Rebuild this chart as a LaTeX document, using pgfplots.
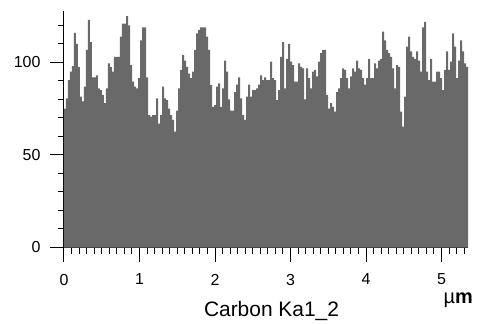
\documentclass[border=0pt]{standalone}
\usepackage{fontspec}
\setmainfont{Liberation Sans}
\usepackage{pgfplots}
\pgfplotsset{compat=1.18}
\definecolor{histgray}{RGB}{105,105,105}
\begin{document}
\begin{tikzpicture}
\begin{axis}[name=ax, scale only axis, width=404bp, height=236.8bp,
 xmin=0, xmax=202, ymin=0, ymax=128,
 axis x line=bottom, axis y line=left,
 axis line style={-, line width=1bp, black},
 xtick={0,37.75,75.5,113.25,151,188.75}, xticklabels={0,1,2,3,4,5},
 minor xtick={3.775,7.55,...,201},
 ytick={0,50,100}, minor ytick={10,20,...,120},
 tick align=outside, major tick length=14bp, minor tick length=6bp,
 tick style={black, line width=1bp},
 tick label style={font=\fontsize{16}{16}\selectfont},
 /pgf/number format/assume math mode=true,
 xticklabel style={yshift=-9bp}, yticklabel style={xshift=-6bp},
]
\addplot[const plot, fill=histgray, draw=none] coordinates {
(0,75) (1,80.6) (2,90.5) (3,95) (4,98) (5,116) (6,110) (7,97.7) (8,81.5) (9,79)
(10,87) (11,106.8) (12,123) (13,111) (14,92) (15,92) (16,93) (17,86) (18,85) (19,82.5)
(20,78) (21,86) (22,99.5) (23,97.7) (24,95) (25,103) (26,103) (27,103) (28,114) (29,121)
(30,121) (31,125) (32,120) (33,98.6) (34,89.6) (35,87) (36,86) (37,91.5) (38,112) (39,119)
(40,119) (41,92) (42,71.6) (43,70.7) (44,71.6) (45,71.6) (46,80.6) (47,67) (48,71.6) (49,87)
(50,80.6) (51,79.7) (52,75) (53,71.6) (54,69) (55,62.6) (56,74) (57,86) (58,96) (59,104)
(60,101) (61,97.7) (62,94) (63,91.5) (64,95) (65,106.8) (66,115.8) (67,117.6) (68,119) (69,119)
(70,119) (71,114) (72,106.8) (73,87.8) (74,76) (75,77) (76,87) (77,88.7) (78,76) (79,86)
(80,101) (81,95) (82,80) (83,74) (84,74) (85,84) (86,88) (87,92) (88,80.6) (89,71.6)
(90,69) (91,81.5) (92,88) (93,81.5) (94,85) (95,85) (96,86) (97,88) (98,93) (99,90.5)
(100,92) (101,90.5) (102,90.5) (103,100.5) (104,91.5) (105,90.5) (106,79.7) (107,85) (108,103) (109,111)
(110,86) (111,102) (112,110) (113,100.5) (114,98.6) (115,89.6) (116,89.6) (117,99.5) (118,97.7) (119,96.8)
(120,80) (121,96.8) (122,91.5) (123,86) (124,95) (125,96) (126,92.5) (127,100.5) (128,105) (129,106.8)
(130,106.8) (131,82.5) (132,75) (133,78) (134,76) (135,73.4) (136,84) (137,86) (138,91.5) (139,96.8)
(140,96) (141,91.5) (142,86) (143,92.5) (144,96.8) (145,95) (146,101) (147,96.8) (148,96) (149,91.5)
(150,88) (151,91.5) (152,102) (153,91.5) (154,91.5) (155,99.5) (156,96.8) (157,101) (158,102) (159,116.7)
(160,112) (161,106.8) (162,105) (163,103) (164,96.8) (165,86) (166,98.6) (167,97.7) (168,73.4) (169,65.3)
(170,81.5) (171,108.6) (172,114) (173,106) (174,103) (175,102) (176,106) (177,101) (178,95) (179,119)
(180,122) (181,95) (182,90.5) (183,102) (184,89.6) (185,89.6) (186,95) (187,95) (188,91.5) (189,85)
(190,96) (191,106) (192,96) (193,100.5) (194,115.8) (195,108.6) (196,91.5) (197,101) (198,112) (199,106)
(200,99.5) (201,97.7) (202,97.7)
} \closedcycle;
\end{axis}
\path ([xshift=-64bp,yshift=-76.5bp]ax.south west) rectangle ++(477bp,324bp);
\node[anchor=base, inner sep=0pt, font=\fontsize{21}{21}\selectfont] at ([xshift=207.5bp,yshift=-68.5bp]ax.south west) {Carbon Ka1\_2};
\node[anchor=base east, inner sep=0pt, font=\fontsize{20}{20}\selectfont] at ([xshift=409bp,yshift=-55.8bp]ax.south west) {µ\textbf{m}};
\end{tikzpicture}
\end{document}
